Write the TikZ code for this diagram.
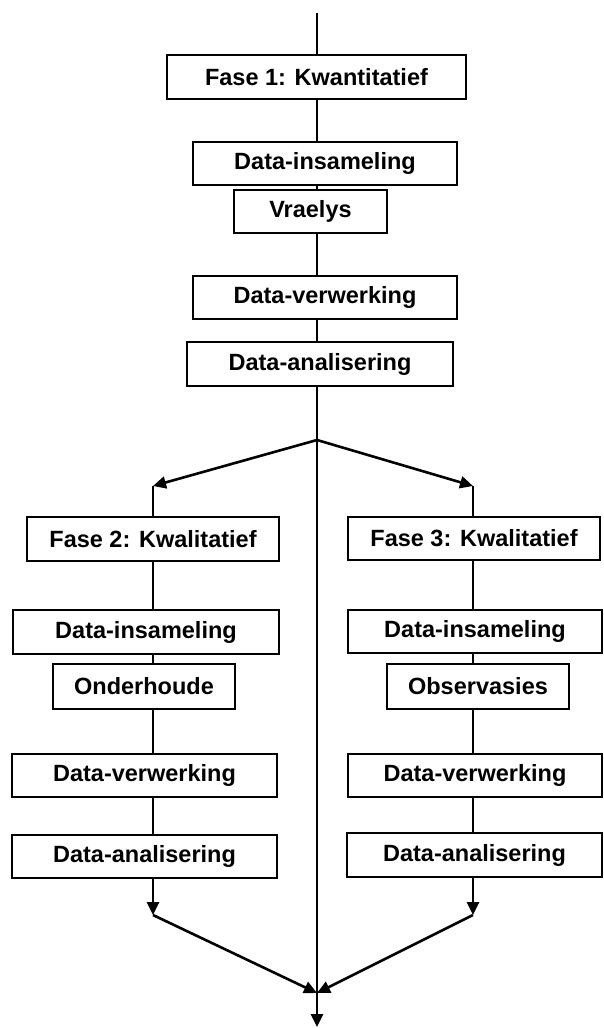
\documentclass[tikz,border=0pt]{standalone}
\usepackage{fontspec}
\setmainfont{Liberation Sans}
\usetikzlibrary{arrows.meta}
\begin{document}
\begin{tikzpicture}[x=1pt,y=-1pt,
  box/.style={draw, fill=white, line width=1.8pt, inner sep=0pt,
    minimum height=43pt, font=\fontsize{23.5}{28}\selectfont\bfseries},
  link/.style={line width=2.6pt},
  arr/.style={link, -{Triangle[length=13pt,width=12pt]}}]
\useasboundingbox (0,0) rectangle (603,1028);

% main column
\coordinate (top) at (317,13);
\coordinate (split) at (317,440);
\coordinate (join) at (317,993);
\coordinate (bottom) at (317,1027);
% branch corners
\coordinate (l0) at (153,486);
\coordinate (l1) at (153,915);
\coordinate (r0) at (473,486);
\coordinate (r1) at (473,915);

% phase 1
\node[box, minimum width=299pt, minimum height=44pt] (f1) at (316.5,77) {Fase 1: Kwantitatief};
\node[box, minimum width=264pt] (di) at (325,163.5) {Data-insameling};
\node[box, minimum width=153pt] (vr) at (310.5,211.5) {Vraelys};
\node[box, minimum width=264pt] (dv) at (325,297.5) {Data-verwerking};
\node[box, minimum width=266pt, minimum height=44pt] (da) at (320,364) {Data-analisering};

% phase 2
\node[box, minimum width=252pt, minimum height=44pt] (f2) at (153,539) {Fase 2: Kwalitatief};
\node[box, minimum width=266pt, minimum height=44pt] (ldi) at (146,632) {Data-insameling};
\node[box, minimum width=182pt, minimum height=45pt] (lon) at (144,686.5) {Onderhoude};
\node[box, minimum width=265pt] (ldv) at (144.5,775.5) {Data-verwerking};
\node[box, minimum width=265pt] (lda) at (144.5,856.5) {Data-analisering};

% phase 3
\node[box, minimum width=252pt] (f3) at (474,538.5) {Fase 3: Kwalitatief};
\node[box, minimum width=254pt] (rdi) at (475,631.5) {Data-insameling};
\node[box, minimum width=182pt, minimum height=45pt] (rob) at (478,686.5) {Observasies};
\node[box, minimum width=254pt] (rdv) at (475,775.5) {Data-verwerking};
\node[box, minimum width=255pt, minimum height=44pt] (rda) at (474.5,855) {Data-analisering};

% main column connectors
\draw[link] (top) -- (f1.north -| top);
\draw[link] (f1.south -| top) -- (di.north -| top);
\draw[link] (di.south -| top) -- (vr.north -| top);
\draw[link] (vr.south -| top) -- (dv.north -| top);
\draw[link] (dv.south -| top) -- (da.north -| top);
\draw[link] (da.south -| top) -- (split);
\draw[arr] (split) -- (bottom);

% left branch
\draw[arr] (split) -- (l0);
\draw[link] (l0) -- (f2.north -| l0);
\draw[link] (f2.south -| l0) -- (ldi.north -| l0);
\draw[link] (ldi.south -| l0) -- (lon.north -| l0);
\draw[link] (lon.south -| l0) -- (ldv.north -| l0);
\draw[link] (ldv.south -| l0) -- (lda.north -| l0);
\draw[arr] (lda.south -| l1) -- (l1);
\draw[arr] (l1) -- (join);

% right branch
\draw[arr] (split) -- (r0);
\draw[link] (r0) -- (f3.north -| r0);
\draw[link] (f3.south -| r0) -- (rdi.north -| r0);
\draw[link] (rdi.south -| r0) -- (rob.north -| r0);
\draw[link] (rob.south -| r0) -- (rdv.north -| r0);
\draw[link] (rdv.south -| r0) -- (rda.north -| r0);
\draw[arr] (rda.south -| r1) -- (r1);
\draw[arr] (r1) -- (join);
\end{tikzpicture}
\end{document}
